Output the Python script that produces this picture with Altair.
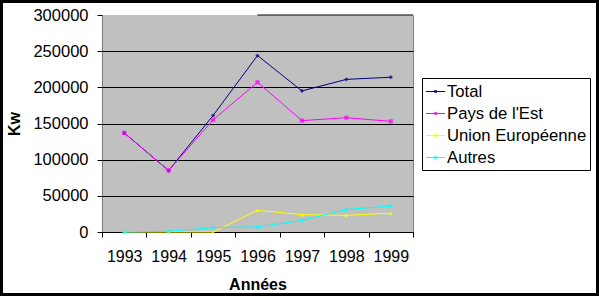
import altair as alt
import pandas as pd

years = ["1993", "1994", "1995", "1996", "1997", "1998", "1999"]
total = [137000, 85000, 161000, 244000, 195000, 211000, 214000]
pays_est = [137000, 85000, 155000, 207000, 154000, 158000, 153000]
union_eu = [0, 0, 0, 30000, 24000, 23000, 26000]
autres = [0, 1000, 6000, 7000, 16000, 31000, 36000]

series_names = ["Total", "Pays de l'Est", "Union Européenne", "Autres"]
series_values = [total, pays_est, union_eu, autres]
colors = ["#000080", "#FF00FF", "#FFFF00", "#00FFFF"]
shapes = ["diamond", "square", "triangle-up", "cross"]
y_ticks = [0, 50000, 100000, 150000, 200000, 250000, 300000]

rows = []
for name, vals in zip(series_names, series_values):
    for yr, v in zip(years, vals):
        rows.append({"Année": yr, "Kw": v, "Série": name, "Forme": name})
df = pd.DataFrame(rows)

W, H = 311, 217
FONT = "Liberation Sans"

x_scale = alt.Scale(type="band", paddingInner=0, paddingOuter=0)
y_scale = alt.Scale(domain=[0, 300000], nice=False)
x_axis = alt.Axis(title="Années", tickBand="extent", tickSize=5, labelPadding=11,
                  labelAngle=0, domainColor="black", tickColor="black",
                  labelFontSize=16, titleFontSize=16, titleFontWeight="bold",
                  titlePadding=12, labelColor="black", titleColor="black")
y_axis = alt.Axis(title="Kw", values=y_ticks, tickCount=7, tickSize=5, labelPadding=9,
                  format="d", labelOverlap=False,
                  grid=True,
                  gridColor={"condition": {"test": "datum.value == 300000", "value": "#C0C0C0"}, "value": "black"},
                  domain=False, tickColor="black",
                  labelFontSize=16.5, titleFontSize=16, titleFontWeight="bold",
                  titlePadding=10, labelColor="black", titleColor="black")

x_enc = alt.X("Année:N", sort=years, scale=x_scale, axis=x_axis)
y_enc = alt.Y("Kw:Q", scale=y_scale, axis=y_axis)

color_enc = alt.Color("Série:N", sort=series_names,
                      scale=alt.Scale(domain=series_names, range=colors),
                      legend=alt.Legend(title=None, orient="none", legendX=320, legendY=63,
                                        symbolType="M-1,0H1M-0.08,-0.08H0.08V0.08H-0.08Z",
                                        symbolSize=361, symbolStrokeWidth=1.2,
                                        labelFontSize=16.7, labelColor="black",
                                        rowPadding=2, strokeColor="black", padding=3,
                                        fillColor="white", labelOffset=1, labelLimit=300))

lines = alt.Chart(df).mark_line(strokeWidth=1).encode(
    x=x_enc, y=y_enc, color=color_enc, detail="Série:N"
)
points = alt.Chart(df).mark_point(filled=True, size=18, strokeWidth=1).encode(
    x=x_enc, y=y_enc,
    color=alt.Color("Forme:N", scale=alt.Scale(domain=series_names, range=colors), legend=None),
    shape=alt.Shape("Forme:N", scale=alt.Scale(domain=series_names, range=shapes), legend=None),
)
top_rule = alt.Chart(pd.DataFrame({"a": [0]})).mark_rule(color="black", strokeWidth=1).encode(
    x=alt.XDatum("1996", scale=x_scale, axis=x_axis), x2=alt.value(W),
    y=alt.YDatum(300000, scale=y_scale, axis=y_axis)
)
frame = alt.Chart(pd.DataFrame({"a": [0]})).mark_rect(fill=None, stroke="black", strokeWidth=3).encode(
    x=alt.value(-100.5), x2=alt.value(W + 184.5), y=alt.value(-13.5), y2=alt.value(H + 62.5)
)

chart = alt.layer(lines, points, top_rule, frame).resolve_scale(
    color="independent", shape="independent"
).properties(
    width=W, height=H,
    autosize=alt.AutoSizeParams(type="none"),
    padding={"left": 102, "top": 15, "right": 186, "bottom": 64},
    background="white",
    view=alt.ViewBackground(fill="#C0C0C0", stroke="#808080", strokeWidth=1),
).configure(font=FONT)

chart.save("out.html", embed_options={"renderer": "svg", "actions": False})
